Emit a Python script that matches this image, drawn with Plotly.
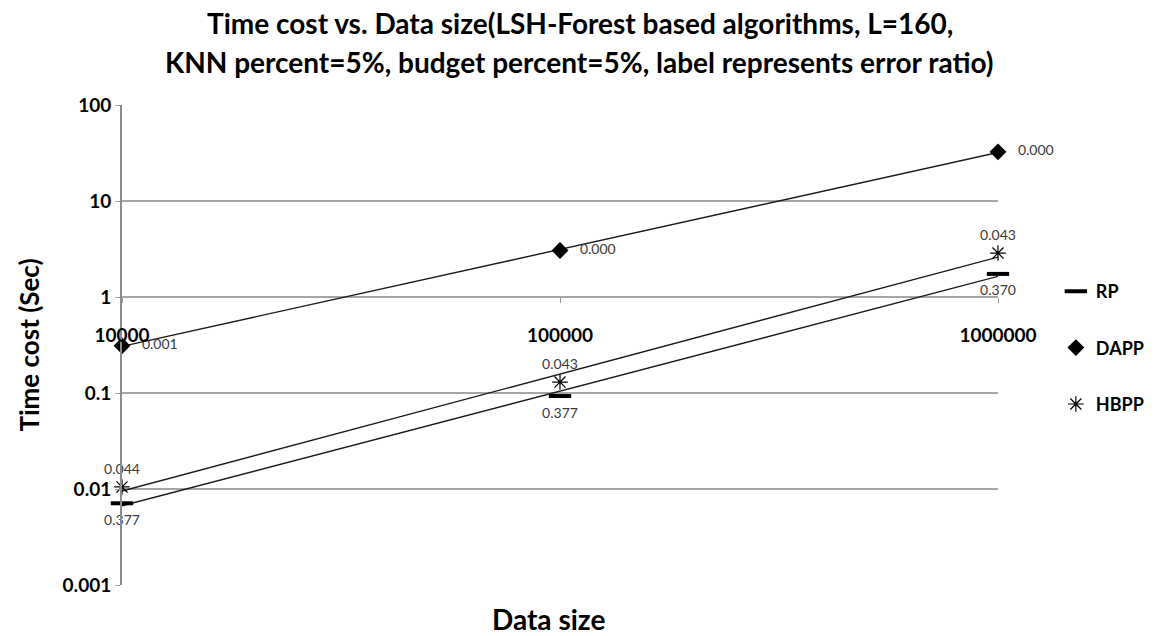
import numpy as np
import plotly.graph_objects as go

# Data sizes (x categories) and measured time costs in seconds
data_sizes = [10000, 100000, 1000000]
size_labels = ["10000", "100000", "1000000"]

rp_time = [0.0071, 0.093, 1.74]
dapp_time = [0.31, 3.05, 32.5]
hbpp_time = [0.0105, 0.13, 2.87]

# Error ratios shown as point labels
rp_err = ["0.377", "0.377", "0.370"]
dapp_err = ["0.001", "0.000", "0.000"]
hbpp_err = ["0.044", "0.043", "0.043"]

y_ticks = [0.001, 0.01, 0.1, 1, 10, 100]
y_tick_text = ["0.001", "0.01", "0.1", "1", "10", "100"]

title_lines = ["Time cost vs. Data size(LSH-Forest based algorithms, L=160,",
               "KNN percent=5%, budget percent=5%, label represents error ratio)"]

FONT = "Lato"
W, H = 1162, 636
ML, MR, MT, MB = 122, 162, 105, 51
PW, PH = W - ML - MR, H - MT - MB


def px_x(p):
    return (p - ML) / PW


def px_y(p):
    return (H - MB - p) / PH


fig = go.Figure()


def power_trend(xs, ys):
    # least-squares power fit (straight line in log-log space)
    b, a = np.polyfit(np.log10(xs), np.log10(ys), 1)
    xx = np.array([xs[0], xs[-1]], dtype=float)
    return xx, 10 ** (a + b * np.log10(xx))


for ys in (dapp_time, hbpp_time, rp_time):
    tx, ty = power_trend(data_sizes, ys)
    fig.add_trace(go.Scatter(x=tx, y=ty, mode="lines", showlegend=False, cliponaxis=False,
                             line=dict(color="#1a1a1a", width=1.4), hoverinfo="skip"))

label_font = dict(family=FONT, size=14, color="#3a3a3a")

fig.add_trace(go.Scatter(
    x=data_sizes, y=rp_time, name="RP", mode="markers+text", cliponaxis=False,
    marker=dict(symbol="line-ew-open", size=16, color="black", line=dict(color="black", width=4)),
    text=rp_err, textposition="bottom center", textfont=label_font,
    legendgroup="a"))
fig.add_trace(go.Scatter(
    x=data_sizes, y=dapp_time, name="DAPP", mode="markers+text", cliponaxis=False,
    marker=dict(symbol="diamond", size=13, color="black"),
    text=["   " + t for t in dapp_err], textposition="middle right", textfont=label_font,
    legendgroup="b"))
fig.add_trace(go.Scatter(
    x=data_sizes, y=hbpp_time, name="HBPP", mode="markers+text", cliponaxis=False,
    marker=dict(symbol="asterisk-open", size=13, color="black", line=dict(color="black", width=1.2)),
    text=hbpp_err, textposition="top center", textfont=label_font,
    legendgroup="c"))

fig.update_layout(
    width=W, height=H,
    margin=dict(l=ML, r=MR, t=MT, b=MB),
    paper_bgcolor="white", plot_bgcolor="white",
    showlegend=True,
    legend=dict(x=px_x(1058), xanchor="left", y=px_y(273), yanchor="top",
                font=dict(family=FONT, size=18, color="black", weight="bold"),
                traceorder="grouped", tracegroupgap=30, bgcolor="rgba(0,0,0,0)"),
)

fig.update_xaxes(
    type="log", range=[4, 6], showgrid=False, zeroline=False,
    anchor="free", position=0.6, showline=False,
    tickvals=data_sizes, ticktext=size_labels,
    ticks="outside", ticklen=5, tickcolor="#9a9a9a",
    ticklabelstandoff=16,
    tickfont=dict(family=FONT, size=19, color="black", weight="bold"),
)
fig.update_yaxes(
    type="log", range=[-3, 2],
    tickvals=y_ticks, ticktext=y_tick_text,
    showgrid=True, gridcolor="#a6a6a6", gridwidth=2,
    showline=True, linecolor="#8c8c8c", linewidth=2,
    ticks="outside", ticklen=5, tickcolor="#a6a6a6",
    tickfont=dict(family=FONT, size=19, color="black", weight="bold"),
    title=dict(text="Time cost (Sec)", standoff=16,
               font=dict(family=FONT, size=26, color="black", weight="bold")),
)

# two-line chart title, placed in paper coordinates above the plot area
for line, yp in zip(title_lines, [23, 62]):
    fig.add_annotation(text=line, xref="paper", yref="paper", x=px_x(W / 2),
                       y=px_y(yp), xanchor="center", yanchor="middle", showarrow=False,
                       font=dict(family=FONT, size=28, color="black", weight="bold"))

fig.add_annotation(text="Data size", xref="paper", yref="paper", x=px_x(549), y=px_y(619),
                   xanchor="center", yanchor="middle", showarrow=False,
                   font=dict(family=FONT, size=28, color="black", weight="bold"))

fig.write_html("out.html")
